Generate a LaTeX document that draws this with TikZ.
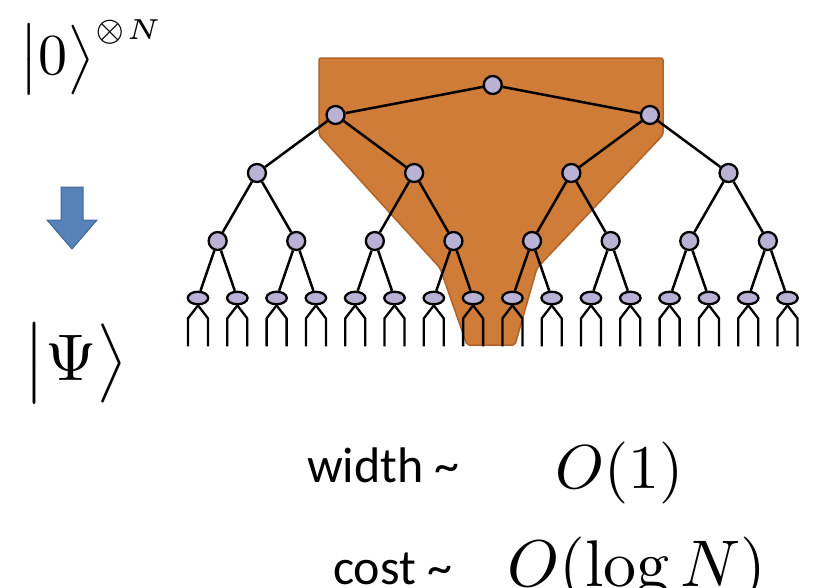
\documentclass[tikz,border=0pt]{standalone}
\usepackage{fontspec}
\setsansfont{Carlito}
\usetikzlibrary{shapes.geometric}
\definecolor{lavender}{RGB}{186,178,212}
\definecolor{copper}{RGB}{206,124,56}
\definecolor{copperdark}{RGB}{176,100,42}
\definecolor{steel}{RGB}{86,130,184}
\definecolor{steeldark}{RGB}{66,104,156}
% inner vertex below #1, named #2, at (#3,#4)
\newcommand{\kid}[4]{\node[vert] (#2) at (#3,#4) {}; \draw[bond] (#1) -- (#2);}
% bottom vertex below #1, named #2, with its two open legs
\newcommand{\leaf}[3]{\node[site] (#2) at (#3,298) {}; \draw[bond] (#1) -- (#2);
  \draw[leg] (#2.south) -- ++(-10,13) -- ++(0,28);
  \draw[leg] (#2.south) -- ++(10,13) -- ++(0,28);}

\begin{document}
\begin{tikzpicture}[x=1pt, y=-1pt,
    vert/.style={circle, draw, fill=lavender, line width=2.3pt, minimum size=18pt, inner sep=0pt},
    site/.style={ellipse, draw, fill=lavender, line width=2.3pt, minimum width=20.5pt, minimum height=12.5pt, inner sep=0pt},
    bond/.style={line width=2.5pt},
    leg/.style={line width=2.3pt, line join=round},
    lbl/.style={inner sep=0pt}]
    \useasboundingbox (0,0) rectangle (820,587);
    \clip (0,0) rectangle (820,587);
    % causal cone
    \filldraw[fill=copper, draw=copperdark, line width=1.5pt, rounded corners=2pt]
        (319,58) -- (663,58) -- (663,135) -- (537,268) -- (515,345)
        -- (467,345) -- (440,268) -- (319,135) -- cycle;
    % level 0
    \node[vert] (r) at (492.75,85) {};
    % level 1
    \kid{r}{a1}{335.55}{115}
    \kid{r}{a2}{649.95}{115}
    % level 2
    \kid{a1}{b1}{256.95}{173}
    \kid{a1}{b2}{414.15}{173}
    \kid{a2}{b3}{571.35}{173}
    \kid{a2}{b4}{728.55}{173}
    % level 3
    \kid{b1}{c1}{217.65}{241}
    \kid{b1}{c2}{296.25}{241}
    \kid{b2}{c3}{374.85}{241}
    \kid{b2}{c4}{453.45}{241}
    \kid{b3}{c5}{532.05}{241}
    \kid{b3}{c6}{610.65}{241}
    \kid{b4}{c7}{689.25}{241}
    \kid{b4}{c8}{767.85}{241}
    % level 4
    \leaf{c1}{d1}{198}      \leaf{c1}{d2}{237.3}
    \leaf{c2}{d3}{276.6}    \leaf{c2}{d4}{315.9}
    \leaf{c3}{d5}{355.2}    \leaf{c3}{d6}{394.5}
    \leaf{c4}{d7}{433.8}    \leaf{c4}{d8}{473.1}
    \leaf{c5}{d9}{512.4}    \leaf{c5}{d10}{551.7}
    \leaf{c6}{d11}{591}     \leaf{c6}{d12}{630.3}
    \leaf{c7}{d13}{669.6}   \leaf{c7}{d14}{708.9}
    \leaf{c8}{d15}{748.2}   \leaf{c8}{d16}{787.5}
    % states and arrow
    \node[lbl, anchor=base west] (init) at (19,74)
        {\scalebox{5.8}{$\big|0\big\rangle^{\scriptscriptstyle\otimes N}$}};
    \filldraw[fill=steel, draw=steeldark, line width=1pt]
        (61,187) -- (83,187) -- (83,220) -- (97,220) -- (72,249)
        -- (47,220) -- (61,220) -- cycle;
    \node[lbl, anchor=base west] (psi) at (23,380)
        {\scalebox{6.6}{$\big|\Psi\big\rangle$}};
    % scaling
    \node[lbl, anchor=base west] (wd) at (307,482)
        {\fontsize{50}{50}\selectfont\sffamily width \textasciitilde};
    \node[lbl, anchor=base west] (wdo) at (555,488)
        {\scalebox{6.2}{$O(1)$}};
    \node[lbl, anchor=base west] (cs) at (333,584)
        {\fontsize{50}{50}\selectfont\sffamily cost \textasciitilde};
    \node[lbl, anchor=base west] (cso) at (507,586)
        {\scalebox{6.6}{$O(\log N)$}};
\end{tikzpicture}
\end{document}
